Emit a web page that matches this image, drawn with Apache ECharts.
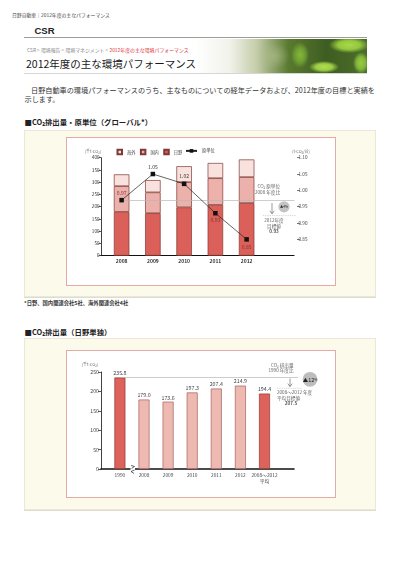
<!DOCTYPE html>
<html><head><meta charset="utf-8">
<script src="https://cdn.jsdelivr.net/npm/echarts@6/dist/echarts.min.js"></script>
<style>
html,body{margin:0;padding:0;width:400px;height:566px;overflow:hidden;background:#fff;font-family:"Noto Sans CJK JP","Noto Sans",sans-serif;color:#333;}
.a{position:absolute;white-space:nowrap;}
#banner{left:24px;top:38.5px;width:343px;height:34px;border-bottom:1px solid #d6d6d6;
background:
 radial-gradient(ellipse 20px 8px at 325px 6px,#a9d84a 0%,#95c83e 55%,rgba(149,200,62,0) 100%),
 radial-gradient(ellipse 9px 13px at 276px 16px,#86b63c 0%,#6f9e32 55%,rgba(111,158,50,0) 100%),
 radial-gradient(ellipse 15px 6px at 300px 28px,#b2dc52 0%,#9ccd44 55%,rgba(156,205,68,0) 100%),
 radial-gradient(ellipse 8px 11px at 337px 24px,#98cb44 0%,#82b83a 55%,rgba(130,184,58,0) 100%),
 radial-gradient(ellipse 16px 13px at 250px 17px,rgba(175,190,140,0.6) 0%,rgba(175,190,140,0) 100%),
 linear-gradient(to right,#fff 0%,#fff 50%,#f1f2ea 60%,#c3cca8 68%,#5a7a30 77%,#3e5d22 88%,#4d6e2a 100%);}
#chart{position:absolute;left:0;top:0;width:400px;height:566px;z-index:5;}
</style></head><body>
<div class="a" style="left:12px;top:11.5px;font-size:4.85px;line-height:5px;color:#444;">日野自動車｜2012年度の主なパフォーマンス</div>
<div class="a" style="left:34.5px;top:26px;font-size:9.5px;line-height:10px;font-weight:bold;color:#222;font-family:'Liberation Sans','Noto Sans',sans-serif;">CSR</div>
<div class="a" style="left:24px;top:36.8px;width:343px;height:1.5px;background:#9c9c9c;"></div>
<div class="a" id="banner"></div>
<div class="a" style="left:27px;top:46.8px;font-size:4.9px;line-height:5px;color:#888;">CSR &gt; 環境報告 &gt; 環境マネジメント &gt; <span style="color:#e0303a;">2012年度の主な環境パフォーマンス</span></div>
<div class="a" style="left:26px;top:58.3px;font-size:10.5px;line-height:11px;color:#1a1a1a;">2012年度の主な環境パフォーマンス</div>
<div class="a" style="left:31px;top:86px;font-size:7.15px;line-height:8px;color:#333;">日野自動車の環境パフォーマンスのうち、主なものについての経年データおよび、2012年度の目標と実績を</div>
<div class="a" style="left:24.5px;top:95px;font-size:7.15px;line-height:8px;color:#333;">示します。</div>
<div class="a" style="left:24.5px;top:118px;font-size:7.4px;line-height:8px;font-weight:bold;color:#222;">■CO₂排出量・原単位（グローバル*）</div>
<div class="a" style="left:24px;top:130px;width:350px;height:165px;background:#fcfaea;border:1px solid #ebe8d6;box-shadow:0 1px 0 #dedbd0;"></div>
<div class="a" style="left:66px;top:137px;width:267.5px;height:146.5px;background:#fff;border:1px solid #e6aaa6;"></div>
<div class="a" style="left:24px;top:300px;font-size:5.3px;line-height:6px;font-weight:bold;color:#333;">*日野、国内関連会社5社、海外関連会社4社</div>
<div class="a" style="left:24.5px;top:327.8px;font-size:7.4px;line-height:8px;font-weight:bold;color:#222;">■CO₂排出量（日野単独）</div>
<div class="a" style="left:24px;top:338.3px;width:350px;height:169.5px;background:#fcfaea;border:1px solid #ebe8d6;box-shadow:0 1px 0 #dedbd0;"></div>
<div class="a" style="left:66px;top:349.5px;width:267.5px;height:146.5px;background:#fff;border:1px solid #e6aaa6;"></div>
<div id="chart"></div>
<script>
// ---- data: chart 1 (global) ----
const years1 = ['2008', '2009', '2010', '2011', '2012'];
const hino1 = [179.0, 173.6, 197.3, 207.4, 214.9];
const domestic1 = [105, 85, 103, 109, 106];
const overseas1 = [48, 50, 65, 62, 72];
const intensity1 = [0.97, 1.05, 1.02, 0.93, 0.85];
const intensityBase = 0.97;
const rightTicks1 = [0.85, 0.90, 0.95, 1.00, 1.05, 1.10];
// ---- data: chart 2 (Hino only) ----
const cats2 = ['1990', '2008', '2009', '2010', '2011', '2012', '2008～2012\n平均'];
const hino2 = [235.8, 179.0, 173.6, 197.3, 207.4, 214.9, 194.4];
const base1990 = 235.8;

// ---- styles ----
const lblPos1 = ['top', 'top', 'top', 'bottom', 'bottom'];
const lblCol1 = ['#7d3535', '#333', '#333', '#7d3535', '#7d3535'];
const dark2 = [true, false, false, false, false, false, true];
const FF = '"Noto Sans CJK JP","Noto Sans",sans-serif';
const T1 = 157.7, H1 = 98, T2 = 372, H2 = 97;

const chart = echarts.init(document.getElementById('chart'));
const hidX = (g) => ({gridIndex: g, type: 'value', min: 0, max: 1, show: false});
const txt = (x, y, text, o) => Object.assign({type: 'text', x: x, y: y, silent: true,
  style: Object.assign({text: text, fontSize: 4.6, fontFamily: FF, fill: '#666', align: 'center', verticalAlign: 'middle'}, o || {})});

chart.setOption({
  animation: false,
  textStyle: {fontFamily: FF},
  grid: [
    {left: 101, top: T1, width: 193, height: H1},
    {left: 106, top: T1, width: 187.5, height: H1},
    {left: 121.6, top: T1, width: 173, height: H1},
    {left: 101, top: T2, width: 193, height: H2},
    {left: 107.85, top: T2, width: 168.7, height: H2},
    {left: 120, top: T2, width: 178, height: H2}
  ],
  legend: [
    {left: 116.5, top: 148.8, padding: 0, itemWidth: 4.5, itemHeight: 4.5, itemGap: 4.5, selectedMode: false,
     data: ['海外', '国内', '日野'], icon: 'rect', textStyle: {fontSize: 4.2, color: '#444'}},
    {left: 185, top: 148.8, padding: 0, itemWidth: 11, itemHeight: 4.5, selectedMode: false,
     data: ['原単位'], textStyle: {fontSize: 4.2, color: '#444'}}
  ],
  xAxis: [
    {gridIndex: 0, type: 'value', min: 0, max: 1, axisLine: {show: true, onZero: false, lineStyle: {color: '#111', width: 1.2}},
     axisTick: {show: false}, axisLabel: {show: false}, splitLine: {show: false}},
    {gridIndex: 1, type: 'category', data: years1.concat(['']), axisLine: {show: false}, axisTick: {show: false},
     axisLabel: {fontSize: 5, fontWeight: 'bold', color: '#333', margin: 2.5}},
    hidX(2),
    {gridIndex: 3, type: 'value', min: 0, max: 1, axisLine: {show: true, onZero: false, lineStyle: {color: '#111', width: 1.6}},
     axisTick: {show: false}, axisLabel: {show: false}, splitLine: {show: false}},
    {gridIndex: 4, type: 'category', data: cats2, axisLine: {show: false}, axisTick: {show: false},
     axisLabel: {fontSize: 4.8, color: '#444', margin: 2.6, lineHeight: 6.3, interval: 0}},
    hidX(5)
  ],
  yAxis: [
    {gridIndex: 0, type: 'value', min: 0, max: 400, interval: 50,
     name: '(千t-CO₂)', nameLocation: 'end', nameGap: 4.5, nameTextStyle: {fontSize: 4, color: '#666', align: 'right'},
     axisLine: {show: true, lineStyle: {color: '#111', width: 0.8}},
     axisTick: {show: true, length: 2.5, lineStyle: {color: '#111', width: 0.7}},
     axisLabel: {fontSize: 4.6, color: '#333', margin: 1.5}, splitLine: {show: false}},
    {gridIndex: 0, type: 'value', position: 'right', offset: 3, min: 0.8, max: 1.1,
     name: '(t-CO₂/台)', nameLocation: 'end', nameGap: 4.5, nameTextStyle: {fontSize: 4, color: '#666', align: 'center', padding: [0, 0, 0, 8]},
     axisLine: {show: false},
     axisTick: {show: true, length: 3, customValues: rightTicks1, lineStyle: {color: '#444', width: 0.7}},
     axisLabel: {customValues: rightTicks1, formatter: (v) => v < 0.82 ? '' : v.toFixed(2), fontSize: 4.6, color: '#444', margin: 1.5},
     splitLine: {show: false}},
    {gridIndex: 1, type: 'value', min: 0, max: 400, show: false},
    {gridIndex: 1, type: 'value', min: 0.8, max: 1.1, show: false},
    {gridIndex: 2, type: 'value', min: 0.8, max: 1.1, show: false},
    {gridIndex: 3, type: 'value', min: 0, max: 250, interval: 50,
     name: '(千t-CO₂)', nameLocation: 'end', nameGap: 6, nameTextStyle: {fontSize: 4, color: '#666', align: 'right', padding: [0, 3, 0, 0]},
     axisLine: {show: true, lineStyle: {color: '#111', width: 0.8}},
     axisTick: {show: true, length: 3, lineStyle: {color: '#111', width: 0.7}},
     axisLabel: {fontSize: 5.2, color: '#444', margin: 2}, splitLine: {show: false}},
    {gridIndex: 4, type: 'value', min: 0, max: 250, show: false},
    {gridIndex: 5, type: 'value', min: 0, max: 250, show: false}
  ],
  series: [
    {type: 'line', xAxisIndex: 2, yAxisIndex: 4, data: [], z: 1, silent: true,
     markLine: {silent: true, symbol: 'none', label: {show: false}, lineStyle: {color: '#b8b8b8', width: 0.7, type: 'solid'},
       data: [{yAxis: intensityBase}]}},
    {name: '日野', type: 'bar', xAxisIndex: 1, yAxisIndex: 2, stack: 'g', data: hino1, barWidth: 15.5, z: 2,
     itemStyle: {color: '#dc605a', borderColor: '#7f3a35', borderWidth: 0.7}},
    {name: '国内', type: 'bar', xAxisIndex: 1, yAxisIndex: 2, stack: 'g', data: domestic1, barWidth: 15.5, z: 2,
     itemStyle: {color: '#ebb1aa', borderColor: '#7f3a35', borderWidth: 0.7}},
    {name: '海外', type: 'bar', xAxisIndex: 1, yAxisIndex: 2, stack: 'g', data: overseas1, barWidth: 15.5, z: 2,
     itemStyle: {color: '#f9e1dd', borderColor: '#7f3a35', borderWidth: 0.7}},
    {name: '原単位', type: 'line', xAxisIndex: 1, yAxisIndex: 3, z: 5, symbol: 'rect', symbolSize: 4.5,
     lineStyle: {color: '#222', width: 0.7}, itemStyle: {color: '#111'},
     label: {show: true, fontSize: 5, distance: 2.5, formatter: (p) => p.value.toFixed(2)},
     data: intensity1.map((v, i) => ({value: v, label: {position: lblPos1[i], color: lblCol1[i]}}))},
    {type: 'line', xAxisIndex: 5, yAxisIndex: 7, data: [], z: 1, silent: true,
     markLine: {silent: true, symbol: 'none', label: {show: false}, lineStyle: {color: '#b8b8b8', width: 0.7, type: 'solid'},
       data: [{yAxis: base1990}]}},
    {name: 'CO₂排出量', type: 'bar', xAxisIndex: 4, yAxisIndex: 6, barWidth: 11, z: 2,
     label: {show: true, position: 'top', distance: 1.5, fontSize: 5.3, color: '#444', formatter: (p) => p.value.toFixed(1)},
     data: hino2.map((v, i) => ({value: v, itemStyle: dark2[i]
       ? {color: '#dd625c', borderColor: '#8e3a36', borderWidth: 0.7}
       : {color: '#eeb9b1', borderColor: '#a5625c', borderWidth: 0.7}}))}
  ],
  graphic: [
    // chart 1 annotation
    txt(280, 186.3, 'CO₂ 原単位', {align: 'right'}),
    txt(280, 192, '2008 年度比', {align: 'right'}),
    {type: 'line', silent: true, shape: {x1: 272, y1: 203, x2: 272, y2: 213.5}, style: {stroke: '#555', lineWidth: 0.6}},
    {type: 'polyline', silent: true, shape: {points: [[269.8, 210.8], [272, 213.8], [274.2, 210.8]]}, style: {stroke: '#555', lineWidth: 0.6, fill: null}},
    {type: 'line', silent: true, shape: {x1: 263, y1: 215.6, x2: 296, y2: 215.6}, style: {stroke: '#aaa', lineWidth: 0.5, lineDash: [1, 0.8]}},
    {type: 'circle', silent: true, shape: {cx: 284, cy: 206.8, r: 5.6}, style: {fill: '#c4c4c4'}},
    txt(284, 206.9, '▲4%', {fontSize: 3.3, fill: '#222'}),
    txt(274, 220.6, '2012年度', {}),
    txt(274, 226, '目標値', {}),
    txt(274, 231.5, '0.93', {fontWeight: 'bold', fill: '#555'}),
    // chart 2 annotation
    txt(293.5, 365, 'CO₂ 排出量', {align: 'right'}),
    txt(293.5, 370.4, '1990 年度比', {align: 'right'}),
    {type: 'line', silent: true, shape: {x1: 290, y1: 378.5, x2: 290, y2: 386.3}, style: {stroke: '#555', lineWidth: 0.6}},
    {type: 'polyline', silent: true, shape: {points: [[287.8, 383.6], [290, 386.6], [292.2, 383.6]]}, style: {stroke: '#555', lineWidth: 0.6, fill: null}},
    {type: 'line', silent: true, shape: {x1: 277, y1: 388.3, x2: 301.5, y2: 388.3}, style: {stroke: '#aaa', lineWidth: 0.5, lineDash: [1, 0.8]}},
    {type: 'circle', silent: true, shape: {cx: 310, cy: 379.3, r: 7.4}, style: {fill: '#bdbdbd'}},
    {type: 'text', x: 310, y: 379.5, silent: true, style: {text: '{a|▲12}{b|%}', align: 'center', verticalAlign: 'middle', fontFamily: FF,
      rich: {a: {fontSize: 5.4, fill: '#222', fontFamily: FF}, b: {fontSize: 3.4, fill: '#222', fontFamily: FF}}}},
    txt(277, 392.7, '2008～2012 年度', {align: 'left'}),
    txt(277, 398.1, '平均目標値', {align: 'left'}),
    txt(291, 403.6, '207.5', {fontWeight: 'bold', fill: '#555'}),
    // axis break mark (chart 2)
    {type: 'rect', silent: true, shape: {x: 130.5, y: 467.8, width: 4.5, height: 2.6}, style: {fill: '#fff'}, z: 10},
    {type: 'polyline', silent: true, z: 11, shape: {points: [[131, 465.5], [134.5, 466.5], [131.5, 468.5]]}, style: {stroke: '#222', lineWidth: 0.7, fill: null}},
    {type: 'polyline', silent: true, z: 11, shape: {points: [[134.5, 470], [131, 471.5], [134, 473.5]]}, style: {stroke: '#222', lineWidth: 0.7, fill: null}}
  ]
});
</script>
</body></html>
